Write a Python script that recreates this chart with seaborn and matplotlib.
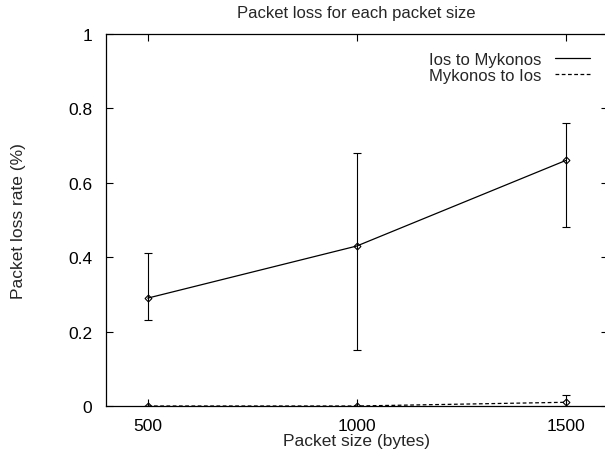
import matplotlib
matplotlib.use("Agg")
import matplotlib.pyplot as plt
import seaborn as sns
import pandas as pd
from matplotlib.lines import Line2D

sizes = [500, 1000, 1500]
ios_myk = [0.29, 0.43, 0.66]
ios_myk_low = [0.23, 0.15, 0.48]
ios_myk_high = [0.41, 0.68, 0.76]
myk_ios = [0.0, 0.0, 0.01]
myk_ios_low = [0.0, 0.0, 0.0]
myk_ios_high = [0.0, 0.0, 0.03]
labels = ["Ios to Mykonos", "Mykonos to Ios"]

sns.set_style("ticks")
plt.rcParams['font.family'] = ['Liberation Sans', 'DejaVu Sans']
FS = 12.5

W, H = 605, 452
fig = plt.figure(figsize=(W / 100, H / 100), dpi=100)
left, right, top, bottom = 105.9, 607.5, 35, 407
ax = fig.add_axes([left / W, 1 - bottom / H, (right - left) / W, (bottom - top) / H])

df = pd.DataFrame({
    "size": sizes * 2,
    "loss": ios_myk + myk_ios,
    "dir": [labels[0]] * 3 + [labels[1]] * 3,
})

styles = {labels[0]: "-", labels[1]: (0, (3, 2))}
for lab, vals, lo, hi in [(labels[0], ios_myk, ios_myk_low, ios_myk_high),
                          (labels[1], myk_ios, myk_ios_low, myk_ios_high)]:
    sub = df[df["dir"] == lab]
    sns.lineplot(data=sub, x="size", y="loss", ax=ax, color="black",
                 linewidth=0.9, linestyle=styles[lab], marker="D",
                 markersize=3.5, markerfacecolor="none", markeredgecolor="black",
                 markeredgewidth=0.8, legend=False)
    yerr = [[v - l for v, l in zip(vals, lo)], [h - v for v, h in zip(vals, hi)]]
    ax.errorbar(sizes, vals, yerr=yerr, fmt="none", ecolor="black",
                elinewidth=0.8, capsize=3, capthick=0.8)

ax.set_xlim(400, 1600)
ax.set_ylim(0, 1)
ax.set_xticks(sizes)
ax.set_yticks([0, 0.2, 0.4, 0.6, 0.8, 1])
ax.set_yticklabels(["0", "0.2", "0.4", "0.6", "0.8", "1"])
ax.tick_params(direction="in", length=5, width=0.8, top=True, right=True,
               labelsize=FS, colors="black")
ax.tick_params(axis="x", pad=9)
ax.tick_params(axis="y", pad=10)
for s in ax.spines.values():
    s.set_linewidth(0.9)
    s.set_color("black")

ax.set_xlabel("Packet size (bytes)", fontsize=FS, labelpad=0)
ax.set_ylabel("Packet loss rate (%)", fontsize=FS, labelpad=30)
ax.set_title("Packet loss for each packet size", fontsize=12, pad=12)

handles = [Line2D([0], [0], color="black", lw=0.9, linestyle="-"),
           Line2D([0], [0], color="black", lw=0.9, linestyle=(0, (3, 2)))]
ax.legend(handles, labels, loc="upper right", frameon=False, markerfirst=False,
          fontsize=12, handlelength=2.1, labelspacing=0.05, handletextpad=0.8,
          bbox_to_anchor=(0.985, 0.978), borderaxespad=0.2)

fig.savefig("out.png", dpi=100)
